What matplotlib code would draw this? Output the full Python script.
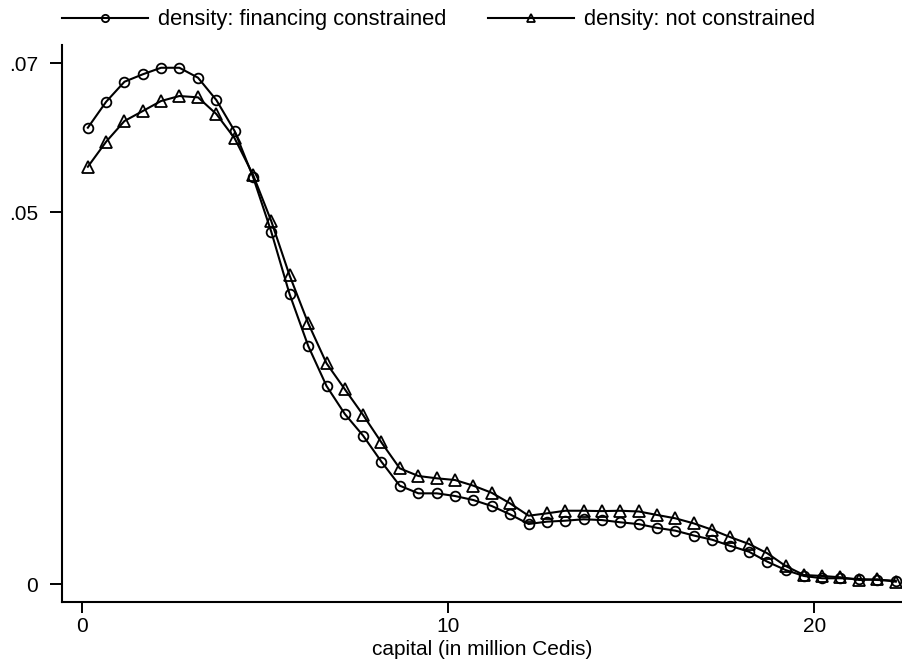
import matplotlib
matplotlib.use("Agg")
import matplotlib.pyplot as plt

# kernel density of capital, evaluated on the same grid for both groups
capital = [0.16, 0.66, 1.16, 1.66, 2.16, 2.66, 3.17, 3.67, 4.17, 4.67,
           5.17, 5.67, 6.18, 6.68, 7.18, 7.68, 8.18, 8.68, 9.19, 9.69,
           10.19, 10.69, 11.19, 11.69, 12.20, 12.70, 13.20, 13.70, 14.20, 14.70,
           15.21, 15.71, 16.21, 16.71, 17.21, 17.71, 18.22, 18.72, 19.22, 19.72,
           20.22, 20.72, 21.23, 21.73, 22.23]

dens_constrained = [0.06135, 0.06484, 0.06753, 0.06853, 0.06941, 0.06941, 0.06807, 0.06507, 0.06090, 0.05476,
                    0.04737, 0.03899, 0.03200, 0.02662, 0.02286, 0.01994, 0.01644, 0.01322, 0.01219, 0.01219,
                    0.01183, 0.01129, 0.01049, 0.00937, 0.00807, 0.00838, 0.00851, 0.00870, 0.00860, 0.00830,
                    0.00805, 0.00755, 0.00717, 0.00652, 0.00596, 0.00513, 0.00434, 0.00300, 0.00188, 0.00108,
                    0.00077, 0.00077, 0.00067, 0.00054, 0.00044]

dens_not_constrained = [0.05610, 0.05947, 0.06225, 0.06359, 0.06494, 0.06561, 0.06543, 0.06319, 0.05992, 0.05505,
                        0.04880, 0.04150, 0.03505, 0.02967, 0.02618, 0.02272, 0.01903, 0.01555, 0.01452, 0.01421,
                        0.01398, 0.01322, 0.01227, 0.01085, 0.00918, 0.00950, 0.00985, 0.00985, 0.00980, 0.00985,
                        0.00975, 0.00928, 0.00883, 0.00815, 0.00730, 0.00630, 0.00538, 0.00413, 0.00242, 0.00121,
                        0.00108, 0.00090, 0.00054, 0.00063, 0.00031]

x_ticks = [0, 10, 20]
y_ticks = [0, 0.05, 0.07]
y_tick_labels = ["0", ".05", ".07"]

plt.rcParams['font.family'] = ['Liberation Sans', 'DejaVu Sans']
plt.rcParams['font.size'] = 15


def draw(ax):
    ax.plot(capital, dens_constrained, color="black", lw=1.5, marker="o", ms=7,
            mfc="none", mec="black", mew=1.3, label="density: financing constrained")
    ax.plot(capital, dens_not_constrained, color="black", lw=1.5, marker="^", ms=8,
            mfc="none", mec="black", mew=1.3, label="density: not constrained")

    ax.set_xlim(-0.546, 22.40)
    ax.set_ylim(-0.00242, 0.07247)
    ax.set_xticks(x_ticks)
    ax.set_yticks(y_ticks)
    ax.set_yticklabels(y_tick_labels)
    ax.set_xlabel("capital (in million Cedis)", labelpad=3)

    for side in ["top", "right"]:
        ax.spines[side].set_visible(False)
    for side in ["left", "bottom"]:
        ax.spines[side].set_linewidth(1.5)
    ax.tick_params(axis="y", length=8.6, width=1.4, pad=8.5)
    ax.tick_params(axis="x", length=8, width=1.4, pad=2.5)


fig = plt.figure(figsize=(9.03, 6.6), dpi=100)
ax = fig.add_axes([62 / 903, 1 - 602 / 660, 840 / 903, 557 / 660])
draw(ax)

fig.legend(loc="center left", bbox_to_anchor=(62 / 903, 1 - 20 / 660), ncol=2,
           frameon=False, borderpad=0, borderaxespad=0, numpoints=1,
           handlelength=3.9, handletextpad=0.47, columnspacing=1.9,
           fontsize=15.8, markerscale=0.75)

fig.savefig("out.png", dpi=100)
